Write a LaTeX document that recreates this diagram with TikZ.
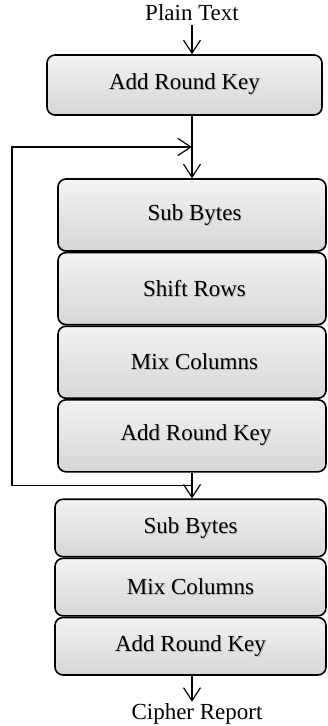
\documentclass[tikz,border=0pt]{standalone}
\usepackage{fontspec}
\setmainfont{Liberation Serif}
\usepackage{tikz}
\usetikzlibrary{arrows.meta,positioning,calc}

% texto con sombra suave
\newcommand{\shtxt}[1]{\makebox[0pt][l]{\raisebox{-1pt}{\hspace{1pt}\textcolor{gray!55}{#1}}}#1}

\begin{document}
\begin{tikzpicture}[x=1pt, y=1pt,
    % ---------- estilos ----------
    lbl/.style={font=\fontsize{23}{27}\selectfont, inner sep=0pt},
    rbox/.style={draw=black, line width=1.6pt, rounded corners=8pt,
      top color=gray!10, bottom color=gray!32, align=center,
      font=\fontsize{23}{27}\selectfont, inner sep=0pt},
    big/.style={rbox, minimum width=268pt, minimum height=72pt},
    small/.style={rbox, minimum width=271pt, minimum height=57.5pt},
    arr/.style={-{Straight Barb[length=13pt, width=17pt, line width=1.2pt]},
      line width=1.2pt}
]

\useasboundingbox (0,0) rectangle (327,-726);

% ====== Entrada y primera ronda ======
\node[lbl] (pt) at (192,-13) {Plain Text};
\node[rbox, minimum width=275pt, minimum height=60pt] (ark0) at (184.5,-85) {\shtxt{Add Round Key}};

% ====== Rondas principales ======
\node[big] (sb1) at (192,-215) {\hspace{5pt}\shtxt{Sub Bytes}};
\node[big, below=0pt of sb1] (sr1) {\hspace{5pt}\shtxt{Shift Rows}};
\node[big, below=0pt of sr1] (mc1) {\hspace{5pt}\shtxt{Mix Columns}};
\node[big, below=0pt of mc1] (ark1) {\hspace{8pt}\shtxt{Add Round Key}};

% ====== Ronda final ======
\node[small] (sb2) at (190.5,-528) {\shtxt{Sub Bytes}};
\node[small, below=0pt of sb2] (mc2) {\shtxt{Mix Columns}};
\node[small, below=0pt of mc2] (ark2) {\shtxt{Add Round Key}};

\node[lbl] (cr) at (197,-714) {Cipher Report};

% ====== Flechas ======
\coordinate (jtop) at ($(sb1.north)!0.5!(sb1.north |- ark0.south)$);
\coordinate (jbot) at ($(ark1.south)!0.5!(ark1.south |- sb2.north)$);

\draw[arr] (pt.south -| sb1.north) ++(0,-4) -- (sb1.north |- ark0.north);
\draw[arr] (sb1.north |- ark0.south) -- (sb1.north);
\draw[arr] (ark1.south) -- (ark1.south |- sb2.north);
\draw[arr] (jbot) -- ++(-180,0) |- (jtop);
\draw[arr] (ark2.south -| sb1.north) -- ++(0,-26);

\end{tikzpicture}
\end{document}
